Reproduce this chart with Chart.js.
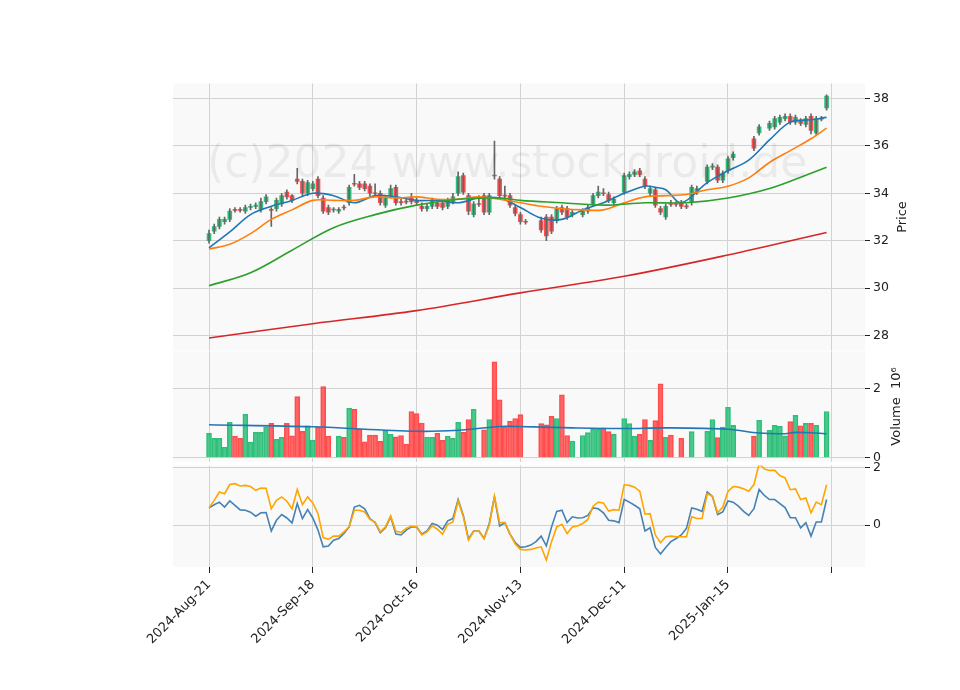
<!DOCTYPE html>
<html>
<head>
<meta charset="utf-8">
<script src="https://cdn.jsdelivr.net/npm/chart.js@4"></script>
<style>
  body { margin: 0; background: #fff; }
  #wrap { position: relative; width: 960px; height: 690px; }
  .pane { position: absolute; left: 0; width: 960px; }
</style>
</head>
<body>
<div id="wrap">
  <div class="pane" style="top:73px;height:288px"><canvas id="price"></canvas></div>
  <div class="pane" style="top:341px;height:131px"><canvas id="volume"></canvas></div>
  <div class="pane" style="top:455px;height:235px"><canvas id="osc"></canvas></div>
</div>
<script>
// tick labels, one every 20 trading days
const tickLabels = ["2024-Aug-21", "2024-Sep-18", "2024-Oct-16", "2024-Nov-13", "2024-Dec-11", "2025-Jan-15", ""];

// OHLC per trading day (null = no quote)
const opens = [32.0,32.4,32.6,32.8,32.9,33.32,33.32,33.25,33.4,33.45,
  33.3,33.65,33.32,33.35,33.55,34.05,33.9,34.6,34.5,34.0,
  34.2,34.6,33.8,33.4,33.3,33.25,33.42,33.6,34.42,34.4,
  34.4,34.3,34.02,34.0,33.5,33.9,34.25,33.65,33.67,33.8,
  33.7,33.45,33.35,33.45,33.6,33.6,33.45,33.65,34.0,34.75,
  33.9,33.1,33.57,33.9,33.2,34.77,34.6,33.92,33.9,33.4,
  33.1,32.82,null,null,32.85,33.0,33.0,32.85,33.4,33.35,
  33.1,null,33.1,33.25,33.55,33.9,34.02,33.95,33.6,null,
  34.05,34.7,34.8,34.95,34.6,34.0,34.15,33.35,33.0,33.57,
  33.57,33.6,33.47,33.6,34.05,null,34.5,35.1,35.1,34.55,
  34.95,35.5,null,null,null,36.3,36.55,null,36.75,36.8,
  37.0,37.15,37.25,37.0,37.05,36.9,37.25,36.55,37.17,37.6];
const closes = [32.3,32.6,32.9,32.9,33.25,33.28,33.28,33.4,33.45,33.5,
  33.65,33.85,33.28,33.7,33.9,33.85,33.7,34.5,34.0,34.45,
  34.4,33.9,33.25,33.2,33.3,33.32,33.38,34.25,34.38,34.25,
  34.2,34.0,33.98,33.6,33.8,34.2,33.6,33.6,33.63,33.65,
  33.6,33.35,33.45,33.7,33.45,33.4,33.7,33.85,34.7,34.05,
  33.25,33.55,33.53,33.2,33.9,34.73,33.9,33.88,33.5,33.15,
  32.8,32.78,null,null,32.45,32.2,32.4,33.35,33.2,33.0,
  33.2,null,33.25,33.4,33.9,34.05,33.98,33.7,33.75,null,
  34.75,34.8,34.9,34.8,34.3,34.2,33.5,33.2,33.45,33.53,
  33.53,33.45,33.43,34.25,34.2,null,35.1,35.15,34.55,34.85,
  35.45,35.65,null,null,null,35.9,36.8,null,36.95,37.15,
  37.2,37.25,37.0,37.2,36.95,37.15,36.65,37.15,37.13,38.1];
const highs = [32.45,32.7,33.0,33.0,33.35,33.4,33.4,33.5,33.55,33.6,
  33.8,33.95,33.4,33.8,34.0,34.15,33.95,35.05,34.6,34.55,
  34.5,34.7,33.9,33.5,33.4,33.4,33.5,34.35,34.8,34.5,
  34.5,34.4,34.4,34.1,33.9,34.35,34.35,33.75,33.75,34.0,
  33.8,33.6,33.55,33.8,33.7,33.7,33.8,34.0,34.9,34.85,
  34.0,33.65,33.9,34.0,34.0,36.2,34.7,34.3,34.0,33.5,
  33.2,32.9,null,null,33.0,33.1,33.1,33.45,33.5,33.45,
  33.3,null,33.35,33.5,34.0,34.3,34.2,34.05,33.85,null,
  34.85,34.9,35.0,35.05,34.7,34.3,34.25,33.45,33.55,33.7,
  33.65,33.7,33.55,34.35,34.3,null,35.2,35.25,35.2,34.95,
  35.55,35.75,null,null,null,36.4,36.9,null,37.05,37.25,
  37.3,37.35,37.35,37.3,37.15,37.25,37.35,37.25,37.25,38.15];
const lows = [31.9,32.3,32.5,32.7,32.8,33.2,33.2,33.15,33.3,33.35,
  33.2,33.55,32.6,33.25,33.45,33.75,33.6,34.4,33.9,33.9,
  34.1,33.8,33.15,33.1,33.2,33.15,33.3,33.5,34.3,34.15,
  34.1,33.9,33.9,33.5,33.4,33.8,33.5,33.5,33.55,33.55,
  33.5,33.25,33.25,33.35,33.35,33.3,33.35,33.55,33.9,33.95,
  33.1,33.0,33.45,33.1,33.1,34.6,33.8,33.8,33.4,33.05,
  32.7,32.7,null,null,32.35,32.0,32.3,32.75,33.1,32.9,
  33.0,null,33.0,33.15,33.45,33.8,33.9,33.6,33.5,null,
  33.95,34.6,34.7,34.7,34.2,33.9,33.4,33.1,32.9,33.45,
  33.45,33.35,33.35,33.5,33.95,null,34.4,35.0,34.45,34.45,
  34.85,35.4,null,null,null,35.8,36.45,null,36.65,36.7,
  36.9,37.05,36.9,36.9,36.85,36.8,36.5,36.45,37.05,37.5];

// moving averages (day index, value)
const maShortIdx = [0,4,8,12,16,20,24,28,32,36,40,44,48,52,56,60,64,68,72,76,80,84,86,88,91,96,100,104,108,112,116,119];
const maShort = [31.7,32.37,33.1,33.45,33.7,34.0,33.9,33.6,33.9,33.85,33.7,33.7,33.6,33.8,33.8,33.4,32.95,32.9,33.3,33.6,34.0,34.3,34.25,34.15,33.6,34.45,34.95,35.4,36.25,37.0,37.1,37.2];
const maMidIdx = [0,4,8,12,16,20,24,28,32,36,40,44,48,52,56,60,64,68,72,76,80,84,88,92,96,100,104,108,112,116,119];
const maMid = [31.65,31.85,32.3,32.9,33.3,33.7,33.7,33.7,33.85,33.8,33.85,33.75,33.75,33.85,33.75,33.6,33.45,33.35,33.3,33.3,33.6,33.85,33.9,33.95,34.15,34.3,34.65,35.3,35.8,36.3,36.75];
const maLongIdx = [0,8,16,24,32,40,48,56,60,68,76,84,92,100,108,116,119];
const maLong = [30.1,30.65,31.6,32.55,33.1,33.5,33.75,33.8,33.7,33.6,33.5,33.6,33.6,33.8,34.2,34.85,35.1];
const maTrendIdx = [0,20,40,60,80,100,119];
const maTrend = [27.9,28.5,29.05,29.8,30.5,31.4,32.35];

// volume in millions (null = no trade)
const volumes = [0.70,0.56,0.56,0.30,1.02,0.62,0.56,1.25,0.45,0.73,
  0.73,0.89,0.99,0.53,0.59,0.99,0.63,1.76,0.76,0.92,
  0.50,0.88,2.05,0.62,null,0.62,0.59,1.42,1.39,0.82,
  0.46,0.65,0.65,0.47,0.79,0.67,0.60,0.64,0.39,1.33,
  1.27,1.00,0.59,0.59,0.70,0.50,0.62,0.56,1.02,0.73,
  1.10,1.39,null,0.80,1.10,2.76,1.67,0.90,1.05,1.13,
  1.24,null,null,null,0.98,0.95,1.19,1.13,1.81,0.64,
  0.48,null,0.64,0.72,0.82,0.82,0.86,0.75,0.67,null,
  1.13,0.98,0.62,0.67,1.10,0.50,1.07,2.13,0.59,0.65,
  null,0.56,null,0.75,null,null,0.76,1.10,0.58,0.88,
  1.45,0.93,null,null,null,0.62,1.08,null,0.79,0.93,
  0.90,0.63,1.04,1.22,0.92,0.99,0.99,0.93,null,1.33];
const volMaIdx = [0,20,40,48,56,59,70,80,88,100,106,111,113,117,119];
const volMa = [0.95,0.89,0.76,0.79,0.9,0.9,0.86,0.84,0.86,0.82,0.71,0.69,0.73,0.71,0.69];

// oscillator panel
const oscFast = [0.6,0.71,0.8,0.63,0.84,0.69,0.53,0.52,0.45,0.31,
  0.43,0.44,-0.2,0.17,0.37,0.25,0.08,0.75,0.23,0.54,
  0.25,-0.17,-0.75,-0.72,-0.52,-0.46,-0.29,-0.06,0.63,0.69,
  0.57,0.23,0.09,-0.26,-0.09,0.29,-0.31,-0.34,-0.17,-0.06,
  -0.06,-0.31,-0.2,0.06,0,-0.15,0.15,0.23,0.89,0.34,
  -0.48,-0.2,-0.2,-0.46,0.06,0.98,-0.03,0.08,-0.31,-0.6,
  -0.77,-0.75,-0.69,-0.57,-0.38,-0.72,-0.06,0.48,0.52,0.09,
  0.29,0.25,0.26,0.34,0.6,0.57,0.43,0.17,0.15,0.09,
  0.89,0.8,0.69,0.57,-0.2,-0.09,-0.77,-1.0,-0.77,-0.57,
  -0.46,-0.34,-0.11,0.6,0.55,0.48,1.15,1.0,0.37,0.46,
  0.84,0.8,0.66,0.48,0.34,0.57,1.24,1.03,0.89,0.89,
  0.75,0.61,0.26,0.26,-0.09,0.09,-0.38,0.11,0.11,0.89];
const oscSlow = [0.6,0.86,1.15,1.09,1.41,1.44,1.36,1.38,1.34,1.21,
  1.29,1.28,0.57,0.86,0.98,0.83,0.57,1.24,0.71,0.98,
  0.77,0.4,-0.43,-0.49,-0.38,-0.38,-0.23,-0.06,0.52,0.52,
  0.46,0.2,0.11,-0.23,-0.06,0.32,-0.21,-0.25,-0.11,-0.03,
  -0.06,-0.34,-0.23,-0.02,-0.14,-0.31,0.03,0.11,0.84,0.29,
  -0.52,-0.21,-0.2,-0.46,0,1.0,0.08,0.1,-0.31,-0.65,
  -0.84,-0.86,-0.84,-0.79,-0.75,-1.21,-0.57,-0.06,0.03,-0.29,
  -0.06,-0.03,0.06,0.2,0.66,0.8,0.77,0.49,0.54,0.52,
  1.4,1.38,1.32,1.18,0.38,0.4,-0.34,-0.61,-0.4,-0.38,
  -0.4,-0.4,-0.4,0.29,0.23,0.23,1.09,1.0,0.43,0.63,
  1.17,1.34,1.32,1.26,1.18,1.41,2.13,1.95,1.9,1.9,
  1.72,1.64,1.23,1.26,0.89,0.94,0.43,0.8,0.71,1.4];

const UP = "#2fbf7a", DOWN = "#ff4d4d";
const GRID = "#d2d2d2";
const FONT = "'DejaVu Sans', sans-serif";
Chart.defaults.font.family = FONT;
Chart.defaults.font.size = 12.5;
Chart.defaults.color = "#222";
Chart.defaults.animation = false;

const pairs = (idx, vals) => idx.map((x, k) => ({x, y: vals[k]}));
const isUp = i => closes[i] === null ? true : closes[i] >= opens[i];

const panelBg = {
  id: "panelBg",
  beforeDraw(chart) {
    const {ctx, chartArea: a} = chart;
    ctx.save();
    ctx.fillStyle = "#f9f9f9";
    ctx.fillRect(a.left, a.top, a.right - a.left, a.bottom - a.top);
    ctx.restore();
  }
};
const watermark = {
  id: "watermark",
  afterDatasetsDraw(chart) {
    const ctx = chart.ctx;
    ctx.save();
    ctx.font = "44px " + FONT;
    ctx.fillStyle = "rgba(0,0,0,0.06)";
    ctx.fillText("(c)2024 www.stockdroid.de", 207, 177 - 73);
    ctx.restore();
  }
};
// axis title on the right, reading bottom to top
const sideTitle = {
  id: "sideTitle",
  afterDraw(chart, args, opts) {
    const {ctx, chartArea: a} = chart;
    ctx.save();
    ctx.translate(opts.x, (a.top + a.bottom) / 2);
    ctx.rotate(-Math.PI / 2);
    ctx.font = "13px " + FONT;
    ctx.fillStyle = "#222";
    ctx.textAlign = "center";
    ctx.textBaseline = "middle";
    ctx.fillText(opts.text, 0, 0);
    ctx.restore();
  }
};

function xScale(showLabels) {
  return {
    type: "linear", min: -6.94, max: 126.4, offset: false,
    grid: {color: GRID, drawTicks: showLabels, tickLength: 6, tickColor: "#222", offset: false},
    border: {display: false},
    ticks: {
      display: showLabels, stepSize: 20, includeBounds: false,
      maxRotation: 45, minRotation: 45, padding: 4,
      font: {size: 13},
      callback: v => tickLabels[v / 20] ?? ""
    },
    afterFit: s => { s.height = showLabels ? 123 : 10; }
  };
}
function yScale(min, max) {
  return {
    position: "right", min, max,
    grid: {color: GRID, tickLength: 5, tickColor: "#222"},
    border: {display: false},
    ticks: {stepSize: 2, includeBounds: false, padding: 3},
    afterFit: s => { s.width = 55; }
  };
}
const layout = {padding: {left: 173, right: 40, top: 10, bottom: 0}};
const common = {
  responsive: true, maintainAspectRatio: false, layout,
  datasets: {bar: {grouped: false}}
};
const plugOpts = (text, x) => ({legend: {display: false}, tooltip: {enabled: false}, sideTitle: {text, x}});

const idx = opens.map((_, i) => i);
const wickData = idx.filter(i => opens[i] !== null).map(i => ({x: i, y: [lows[i], highs[i]]}));
const bodyData = idx.filter(i => opens[i] !== null).map(i => {
  const a = opens[i], b = closes[i];
  return {x: i, y: Math.abs(a - b) < 0.03 ? [a, a + (b >= a ? 0.03 : -0.03)] : [a, b]};
});
const lineDs = (data, color) => ({type: "line", data, borderColor: color, borderWidth: 1.6,
  pointRadius: 0, tension: 0.35, fill: false});

new Chart(document.getElementById("price"), {
  type: "bar",
  data: {datasets: [
    lineDs(pairs(maTrendIdx, maTrend), "#d62728"),
    lineDs(pairs(maLongIdx, maLong), "#2ca02c"),
    lineDs(pairs(maMidIdx, maMid), "#ff7f0e"),
    lineDs(pairs(maShortIdx, maShort), "#1f77b4"),
    {data: wickData, backgroundColor: "#666", barThickness: 1},
    {data: bodyData, barThickness: 4, borderWidth: 0,
      backgroundColor: bodyData.map(d => isUp(d.x) ? UP : DOWN)}
  ]},
  options: {...common, plugins: plugOpts("Price", 903),
    scales: {x: xScale(false), y: yScale(27.37, 38.63)}},
  plugins: [panelBg, watermark, sideTitle]
});

const volData = idx.filter(i => volumes[i] !== null).map(i => ({x: i, y: volumes[i]}));
new Chart(document.getElementById("volume"), {
  type: "bar",
  data: {datasets: [
    lineDs(pairs(volMaIdx, volMa), "#1f77b4"),
    {data: volData, barThickness: 5, borderWidth: 1,
      backgroundColor: volData.map(d => isUp(d.x) ? "rgba(47,191,122,0.85)" : "rgba(255,77,77,0.85)"),
      borderColor: volData.map(d => isUp(d.x) ? UP : DOWN)}
  ]},
  options: {...common, plugins: plugOpts("Volume  10\u2076", 897),
    scales: {x: xScale(false), y: yScale(-0.11, 3.06)}},
  plugins: [panelBg, sideTitle]
});

new Chart(document.getElementById("osc"), {
  type: "line",
  data: {datasets: [
    {data: pairs(idx, oscSlow), borderColor: "#ffa500", borderWidth: 1.6, pointRadius: 0},
    {data: pairs(idx, oscFast), borderColor: "#4682b4", borderWidth: 1.6, pointRadius: 0}
  ]},
  options: {...common, plugins: {legend: {display: false}, tooltip: {enabled: false}},
    scales: {x: xScale(true), y: yScale(-1.45, 2.07)}},
  plugins: [panelBg]
});
</script>
</body>
</html>
